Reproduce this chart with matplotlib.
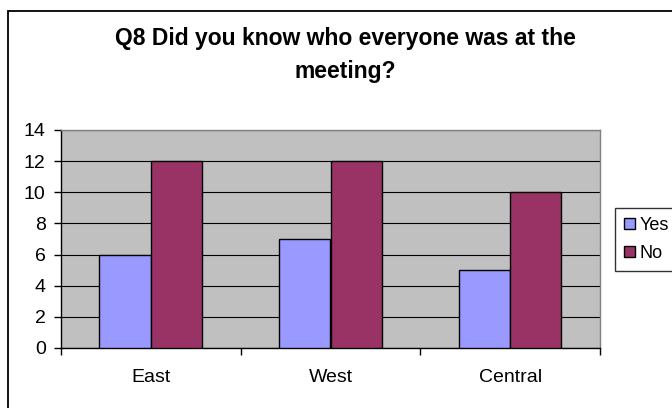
import matplotlib
matplotlib.use("Agg")
import matplotlib.pyplot as plt
import numpy as np
from matplotlib.patches import Rectangle

plt.rcParams['font.family'] = ['Liberation Sans', 'DejaVu Sans']

categories = ["East", "West", "Central"]
yes_counts = [6, 7, 5]
no_counts = [12, 12, 10]
series_names = ["Yes", "No"]
y_ticks = [0, 2, 4, 6, 8, 10, 12, 14]
title_text = "Q8 Did you know who everyone was at the\nmeeting?"

W, H = 672, 408
fig = plt.figure(figsize=(W / 100, H / 100), dpi=100)
fig.patch.set_facecolor("white")

ax = fig.add_axes([61 / W, 1 - 348 / H, (600 - 61) / W, (348 - 130) / H])
ax.set_facecolor("#C0C0C0")

x = np.arange(len(categories))
bw = 1 / 3.5
ax.bar(x - bw / 2, yes_counts, bw, color="#9999FF", edgecolor="black",
       linewidth=1.0, zorder=3, label=series_names[0])
ax.bar(x + bw / 2, no_counts, bw, color="#993366", edgecolor="black",
       linewidth=1.0, zorder=3, label=series_names[1])

ax.set_xlim(-0.5, len(categories) - 0.5)
ax.set_ylim(0, 14)
ax.set_yticks(y_ticks)
ax.yaxis.grid(True, color="black", linewidth=0.8, zorder=1)
ax.set_axisbelow(True)

# category labels sit between boundary ticks
ax.set_xticks(np.arange(len(categories) + 1) - 0.5)
ax.set_xticklabels([])
ax.set_xticks(x, minor=True)
ax.set_xticklabels(categories, minor=True)
ax.tick_params(axis="x", which="major", direction="out", length=5,
               width=1, color="black")
ax.tick_params(axis="x", which="minor", length=0, pad=15, labelsize=14)
ax.tick_params(axis="y", direction="out", length=5, width=1, color="black",
               pad=6, labelsize=14)

for side in ("top", "right"):
    ax.spines[side].set_color("#808080")
    ax.spines[side].set_linewidth(1.0)
for side in ("left", "bottom"):
    ax.spines[side].set_color("black")
    ax.spines[side].set_linewidth(1.0)

fig.text(345 / W, 1 - 27 / H, title_text, ha="center", va="top",
         fontsize=16.5, fontweight="bold", linespacing=1.55)

leg = fig.legend(loc="upper left", bbox_to_anchor=(615 / W, 1 - 208 / H),
                 fontsize=13, frameon=True, fancybox=False, shadow=False,
                 handlelength=0.6, handleheight=0.6, handletextpad=0.25,
                 labelspacing=0.6, borderpad=0.5, borderaxespad=0)
leg.get_frame().set_edgecolor("black")
leg.get_frame().set_linewidth(1.0)

# chart area outline
fig.patches.append(Rectangle((8 / W, -0.1), 1.2, 1 - 10.5 / H + 0.1,
                             transform=fig.transFigure, fill=False,
                             edgecolor="black", linewidth=1.3))

fig.savefig("out.png", dpi=100)
